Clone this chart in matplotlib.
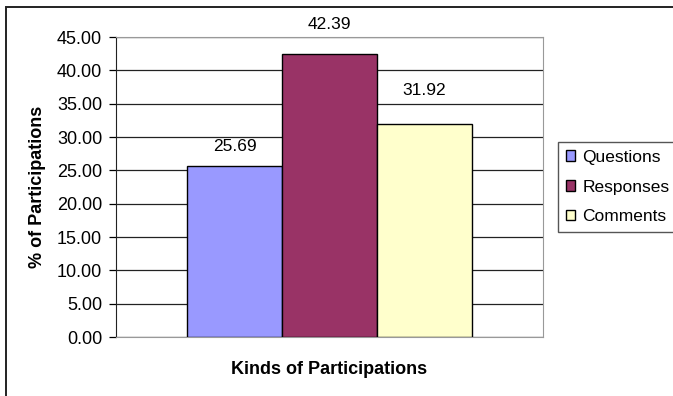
import matplotlib
matplotlib.use("Agg")
import matplotlib.pyplot as plt
from matplotlib.patches import Rectangle

kinds = ["Questions", "Responses", "Comments"]
shares = [25.69, 42.39, 31.92]
colors = ["#9999FF", "#993366", "#FFFFCC"]
yticks = [0, 5, 10, 15, 20, 25, 30, 35, 40, 45]
# how far (pt) each value label sits above its bar
label_offsets = [14, 21.5, 24.5]

plt.rcParams["font.family"] = ["Liberation Sans", "DejaVu Sans"]

W, H = 673, 396
fig = plt.figure(figsize=(W / 100, H / 100), dpi=100)
ax = fig.add_axes([116 / W, 1 - 337 / H, (543 - 116) / W, (337 - 37) / H])

# outer chart frame, running off the right and bottom edges
fig.patches.append(Rectangle((6 / W, -0.1), 1.2, 1 - 7 / H + 0.1, transform=fig.transFigure,
                             fill=False, ec="#222222", lw=1.4))

for i, (k, v, c, off) in enumerate(zip(kinds, shares, colors, label_offsets)):
    ax.bar(i, v, width=1.0, color=c, edgecolor="black", lw=1.0, label=k, zorder=3)
    ax.annotate(f"{v:.2f}", (i, v), xytext=(0, off), textcoords="offset points",
                ha="center", va="center", fontsize=12.5)

ax.set_xlim(-1.25, 3.25)
ax.set_ylim(0, 45)
ax.set_yticks(yticks)
ax.set_yticklabels([f"{t:.2f}" for t in yticks], fontsize=13)
ax.set_xticks([])
ax.yaxis.grid(True, color="#222222", lw=0.9, zorder=0)
ax.tick_params(axis="y", direction="out", length=5, width=0.9, pad=5)
for s in ("top", "right", "bottom"):
    ax.spines[s].set_color("#999999")
ax.spines["left"].set_color("#222222")
ax.set_ylabel("% of Participations", fontsize=13, fontweight="bold", labelpad=8)
ax.set_xlabel("Kinds of Participations", fontsize=13, fontweight="bold", labelpad=17)

leg = fig.legend(loc="upper left", bbox_to_anchor=(558 / W, 1 - 142 / H), fontsize=12.5,
                 handlelength=0.55, handleheight=0.55, handletextpad=0.4, labelspacing=0.85,
                 borderpad=0.45, borderaxespad=0, fancybox=False, framealpha=1)
leg.get_frame().set_edgecolor("#555555")
leg.get_frame().set_linewidth(1.0)

fig.savefig("out.png", dpi=100)
